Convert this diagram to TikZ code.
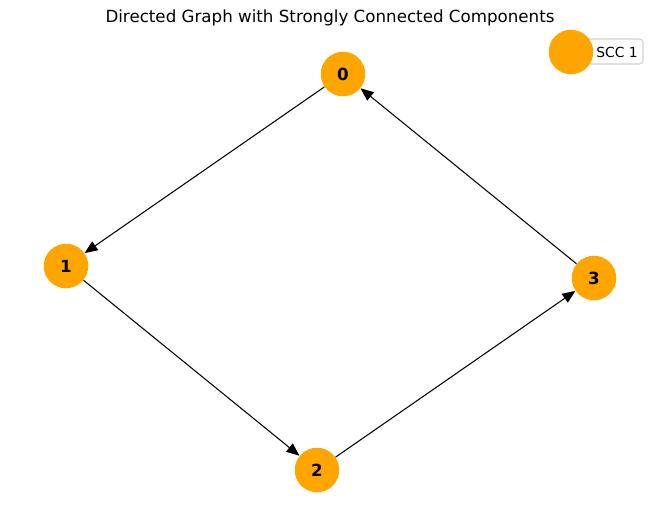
\documentclass[tikz,border=0pt]{standalone}
\usepackage{fontspec}
\setmainfont{DejaVu Sans}
\usetikzlibrary{arrows.meta}
\definecolor{sccorange}{HTML}{FFA500}

\begin{document}
\begin{tikzpicture}[x=0.02cm, y=-0.02cm]
  \useasboundingbox (0,0) rectangle (660,522);
  \tikzset{every node/.style={circle, fill=sccorange, minimum size=0.89cm, inner sep=0pt, font=\fontsize{9.5}{11}\selectfont\bfseries}}
  \node (n0) at (343, 74) {0};
  \node (n1) at (66, 266) {1};
  \node (n2) at (317, 470) {2};
  \node (n3) at (594, 278) {3};

  % title and legend
  \node[fill=none, minimum size=0pt, font=\fontsize{9.5}{11}\selectfont] (title) at (330, 18) {Directed Graph with Strongly Connected Components};
  \draw[black!18, fill=white, rounded corners=2pt, line width=0.6pt] (551, 39) rectangle (643, 64);
  \node (leg) at (571, 52) {};
  \node[fill=none, minimum size=0pt, font=\fontsize{7.9}{9}\selectfont] (legtext) at (617, 52) {SCC 1};

  % edges
  \tikzset{mystyle/.style={-{Triangle[length=2.6mm, width=2.1mm]}, line width=0.6pt}}
  \path (n0) edge [mystyle] (n1);
  \path (n1) edge [mystyle] (n2);
  \path (n2) edge [mystyle] (n3);
  \path (n3) edge [mystyle] (n0);
\end{tikzpicture}
\end{document}
